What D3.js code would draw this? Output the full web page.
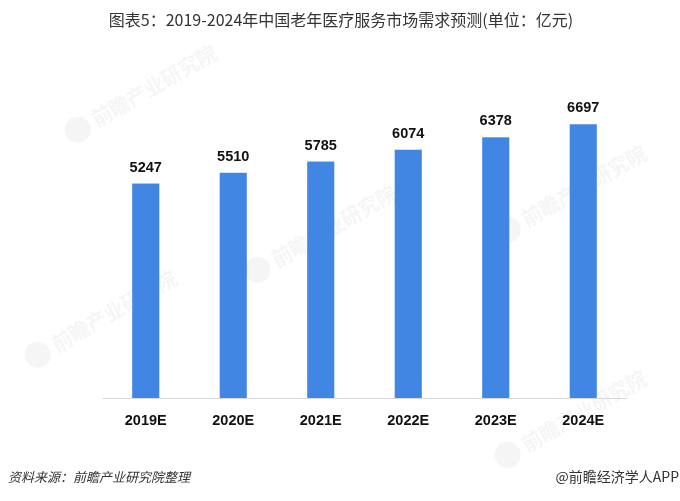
<!DOCTYPE html>
<html><head><meta charset="utf-8">
<script src="https://cdn.jsdelivr.net/npm/d3@7"></script>
<style>body{margin:0;background:#fff}svg{display:block}</style>
</head><body>
<svg id="c" width="680" height="501"></svg>
<script>
const categories = ["2019E","2020E","2021E","2022E","2023E","2024E"];
const values = [5247,5510,5785,6074,6378,6697];
const title = "图表5：2019-2024年中国老年医疗服务市场需求预测(单位：亿元)";
const source = "资料来源：前瞻产业研究院整理";
const brand = "@前瞻经济学人APP";

const svg = d3.select("#c");
const cjk = "'Noto Sans CJK SC','Noto Sans',sans-serif";

// faint watermarks (kept inside the picture)
const wm = [[150,95],[580,195],[110,320],[580,420],[330,235]];
const wg = svg.append("g").attr("fill","#000").attr("opacity",0.04);
wm.forEach(([x,y])=>{
  const g = wg.append("g").attr("transform",`translate(${x},${y}) rotate(-30)`);
  g.append("circle").attr("cx",-80).attr("cy",-6).attr("r",13);
  g.append("text").attr("x",-62).attr("y",2).attr("font-family",cjk).attr("font-size",20).attr("font-weight","bold").text("前瞻产业研究院");
});

const x = d3.scaleBand().domain(categories).range([102,627]).paddingInner(0.69).paddingOuter(0.345);
const y = d3.scaleLinear().domain([0,8000]).range([398,71]);

svg.append("g").selectAll("rect").data(values).join("rect")
  .attr("x",(d,i)=>x(categories[i])).attr("width",x.bandwidth())
  .attr("y",d=>y(d)).attr("height",d=>y(0)-y(d)).attr("fill","#4186e3");

svg.append("g").selectAll("text").data(values).join("text")
  .attr("x",(d,i)=>x(categories[i])+x.bandwidth()/2).attr("y",d=>y(d)-12)
  .attr("text-anchor","middle").attr("font-family","'Liberation Sans',Arial,sans-serif")
  .attr("font-weight","bold").attr("font-size",14.5).attr("fill","#111").text(d=>d);

const ax = svg.append("g").attr("transform",`translate(0,${y(0)})`)
  .call(d3.axisBottom(x).tickSize(0).tickPadding(17));
ax.select(".domain").attr("stroke","#d9d9d9").attr("stroke-width",1);
ax.selectAll("text").attr("font-family","'Liberation Sans',Arial,sans-serif")
  .attr("font-weight","bold").attr("font-size",14.5).attr("fill","#111");

svg.append("text").attr("x",341).attr("y",26).attr("text-anchor","middle")
  .attr("font-family",cjk).attr("font-size",16).attr("fill","#333").text(title);
svg.append("text").attr("x",8).attr("y",482).attr("font-family",cjk)
  .attr("font-size",13).attr("font-style","italic").attr("fill","#333").text(source);
svg.append("text").attr("x",679).attr("y",482).attr("text-anchor","end").attr("font-family",cjk)
  .attr("font-size",14).attr("fill","#333").text(brand);
</script>
</body></html>
